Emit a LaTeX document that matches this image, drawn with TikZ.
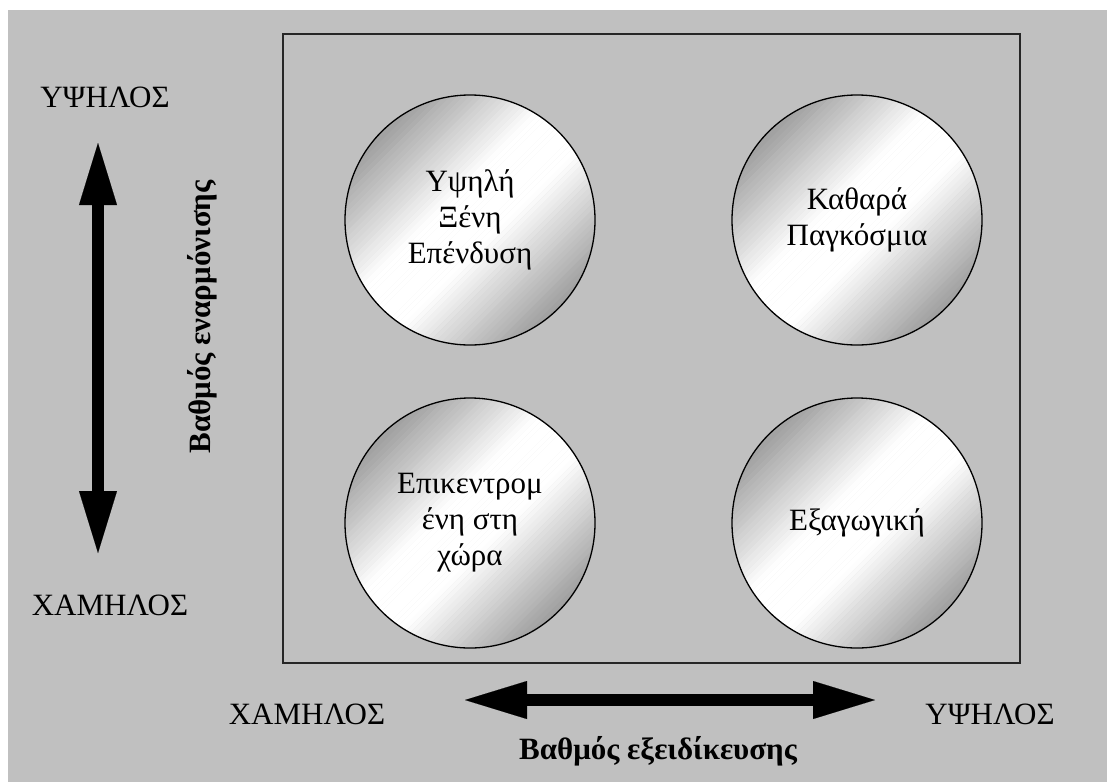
\documentclass[tikz,border=0pt]{standalone}
\usepackage{fontspec}
\setmainfont{Liberation Serif}
\usetikzlibrary{arrows.meta, shapes, positioning}
\definecolor{panelgray}{HTML}{C0C0C0}
\definecolor{ballgray}{HTML}{969696}
\tikzset{
   bigtext/.style={
     font=\fontsize{31}{36}\selectfont, text=black
   },
   boldtext/.style={
     font=\fontsize{31}{36}\selectfont\bfseries, text=black
   },
   ball/.style={
     circle, draw=black, line width=1.3pt,
     minimum size=250pt, inner sep=0pt, align=center, bigtext
   },
   framebox/.style={draw=black!85, line width=1.8pt},
   fatarrow/.style={line width=12.5pt,
     {Triangle[length=62pt,width=38pt,line width=0.1pt]}-{Triangle[length=62pt,width=38pt,line width=0.1pt]}}
}
\begin{document}
\begin{tikzpicture}[x=1pt,y=-1pt]
            \useasboundingbox (0,0) rectangle (1107,782);
            \fill[panelgray] (8,10) rectangle (1107,782);
            \draw[framebox] (283,34) rectangle (1020,663);

            % shiny fill of the balls, in thin diagonal stripes
            \foreach \cx/\cy in {470/220, 857/220, 470/523, 857/523}{
              \begin{scope}
                \clip (\cx,\cy) circle (125);
                \foreach \k in {0,...,59}{
                  \pgfmathtruncatemacro\shadeval{100*max(0,(abs((\k+0.5)/60-0.5)*2-0.2)/0.8)}
                  \fill[ballgray!\shadeval!white, shift={(\cx,\cy)}, rotate=45]
                    (-132,-132+\k*4.4) rectangle (132,-132+\k*4.4+4.6);
                }
              \end{scope}
            }

            % the four strategies
            \node[ball](highfdi) at (470,220) {Υψηλή\\Ξένη\\Επένδυση};
            \node[ball](global) at (857,220) {Καθαρά\\Παγκόσμια};
            \node[ball](home) at (470,523) {Επικεντρομ\\ένη στη\\χώρα};
            \node[ball](export) at (857,523) {Εξαγωγική};

            % axes
            \coordinate (vtop) at (98,143);
            \coordinate (vbot) at (98,553);
            \coordinate (hleft) at (465,700);
            \coordinate (hright) at (875,700);
            \draw[fatarrow] (vbot) -- (vtop);
            \draw[fatarrow] (hleft) -- (hright);

            \node[bigtext](yhigh) at (105,97) {ΥΨΗΛΟΣ};
            \node[bigtext](ylow) at (110,605) {ΧΑΜΗΛΟΣ};
            \node[bigtext](xlow) at (307,714) {ΧΑΜΗΛΟΣ};
            \node[bigtext](xhigh) at (990,714) {ΥΨΗΛΟΣ};
            \node[boldtext](xlabel) at (658,751) {Βαθμός εξειδίκευσης};
            \node[boldtext, rotate=90](ylabel) at (202,317) {Βαθμός εναρμόνισης};
         \end{tikzpicture}
\end{document}
